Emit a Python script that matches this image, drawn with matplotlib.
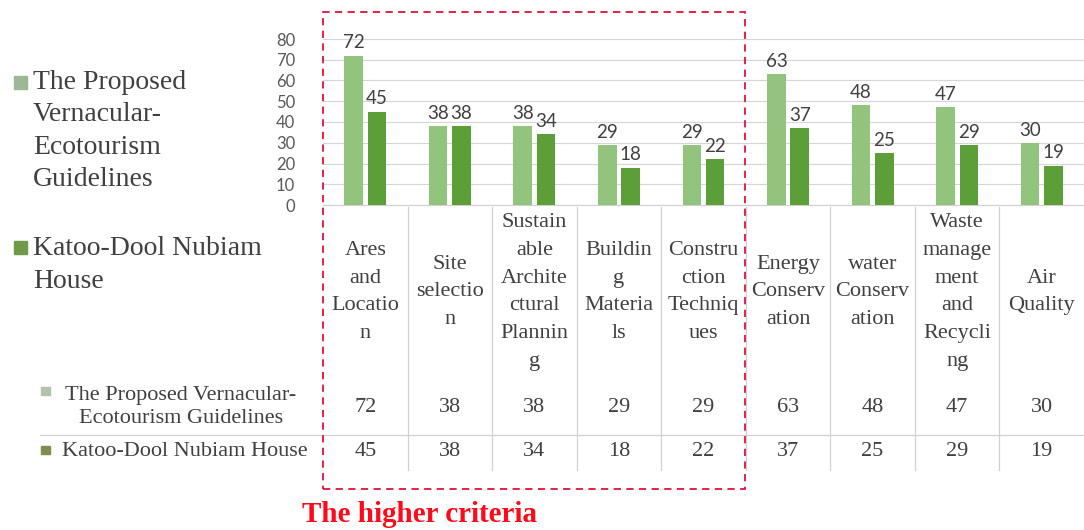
import matplotlib
matplotlib.use("Agg")
import matplotlib.pyplot as plt
from matplotlib.patches import Rectangle
from matplotlib.lines import Line2D
from matplotlib.transforms import blended_transform_factory
import numpy as np

# data
categories = ["Ares\nand\nLocatio\nn", "Site\nselectio\nn",
              "Sustain\nable\nArchite\nctural\nPlannin\ng",
              "Buildin\ng\nMateria\nls", "Constru\nction\nTechniq\nues",
              "Energy\nConserv\nation", "water\nConserv\nation",
              "Waste\nmanage\nment\nand\nRecycli\nng", "Air\nQuality"]
proposed = [72, 38, 38, 29, 29, 63, 48, 47, 30]
katoo = [45, 38, 34, 18, 22, 37, 25, 29, 19]
series_names = ["The Proposed Vernacular-Ecotourism Guidelines",
                "Katoo-Dool Nubiam House"]
yticks = [0, 10, 20, 30, 40, 50, 60, 70, 80]

W, H = 1084, 530
LIGHT = "#93c47d"
DARK = "#5c9e38"
SERIF = "Liberation Serif"
SANS = "Lato"
RED = "#e0103a"


def fy(ypx):
    # pixel from top -> figure fraction
    return 1 - ypx / H


def fx(xpx):
    return xpx / W


def main():
    fig = plt.figure(figsize=(W / 100, H / 100), dpi=100)
    ax = fig.add_axes([fx(323), fy(205), fx(1084) - fx(323), fy(39) - fy(205)])

    x = np.arange(len(categories))
    bw = 0.22
    off = 0.138
    b1 = ax.bar(x - off, proposed, bw, color=LIGHT, zorder=3)
    b2 = ax.bar(x + off, katoo, bw, color=DARK, zorder=3)
    for bars, vals in ((b1, proposed), (b2, katoo)):
        for b, v in zip(bars, vals):
            ax.text(b.get_x() + b.get_width() / 2, v + 2, str(v),
                    ha="center", va="bottom", fontsize=13.5,
                    family=SANS, color="#404040", zorder=4)

    ax.set_xlim(-0.5, len(categories) - 0.5)
    ax.set_ylim(0, 80)
    ax.set_yticks(yticks)
    ax.set_yticklabels([str(t) for t in yticks], family=SANS, fontsize=12,
                       color="#595959")
    ax.tick_params(axis="y", length=0, pad=20)
    ax.set_xticks([])
    ax.grid(axis="y", color="#d6d6d6", lw=0.8, zorder=0)
    for s in ("left", "right", "top"):
        ax.spines[s].set_visible(False)
    ax.spines["bottom"].set_color("#d0d0d0")
    ax.set_facecolor("none")

    # data table under the chart
    tr = blended_transform_factory(ax.transData, fig.transFigure)
    for i, cat in enumerate(categories):
        fig.text(i, fy(292), cat, transform=tr, ha="center", va="center",
                 multialignment="center", family=SERIF, fontsize=16,
                 color="#404040", linespacing=1.62)
        fig.text(i, fy(407), str(proposed[i]), transform=tr, ha="center",
                 va="center", family=SERIF, fontsize=16, color="#404040")
        fig.text(i, fy(452), str(katoo[i]), transform=tr, ha="center",
                 va="center", family=SERIF, fontsize=16, color="#404040")
    for i in range(1, len(categories)):
        fig.add_artist(Line2D([i - 0.5, i - 0.5], [fy(207), fy(470)],
                              transform=tr, color="#d0d0d0", lw=0.9))
    fig.add_artist(Line2D([fx(40), fx(1084)], [fy(435), fy(435)],
                          transform=fig.transFigure, color="#d0d0d0", lw=0.9))

    # row labels of the table
    fig.text(fx(181), fy(407), "The Proposed Vernacular-\nEcotourism Guidelines",
             ha="center", va="center", multialignment="center", family=SERIF,
             fontsize=16, color="#404040", linespacing=1.25)
    fig.text(fx(185), fy(452), series_names[1], ha="center", va="center",
             family=SERIF, fontsize=16, color="#404040")
    for ypx, col in ((391, "#b2c3ab"), (450, "#7d8f50")):
        fig.add_artist(Rectangle((fx(41), fy(ypx + 4)), fx(9), 8 / H,
                                 transform=fig.transFigure, color=col))

    # legend on the left
    fig.text(fx(33), fy(131), "The Proposed\nVernacular-\nEcotourism\nGuidelines",
             ha="left", va="center", family=SERIF, fontsize=20,
             color="#404040", linespacing=1.4)
    fig.text(fx(33), fy(265), "Katoo-Dool Nubiam\nHouse", ha="left",
             va="center", family=SERIF, fontsize=20, color="#404040",
             linespacing=1.4)
    for ypx, col in ((82, "#9db896"), (247, "#6f9a4a")):
        fig.add_artist(Rectangle((fx(14), fy(ypx + 6.5)), fx(13), 13 / H,
                                 transform=fig.transFigure, color=col))

    # red dashed box and caption
    fig.add_artist(Rectangle((fx(323), fy(489)), fx(745) - fx(323),
                             fy(12) - fy(489), transform=fig.transFigure,
                             fill=False, edgecolor=RED, lw=1.3,
                             linestyle=(0, (4, 3)), zorder=5))
    fig.text(fx(419), fy(514), "The higher criteria", ha="center", va="center",
             family=SERIF, fontsize=21, fontweight="bold", color="#ff0a1a")

    fig.savefig("out.png", dpi=100)


if __name__ == "__main__":
    main()
